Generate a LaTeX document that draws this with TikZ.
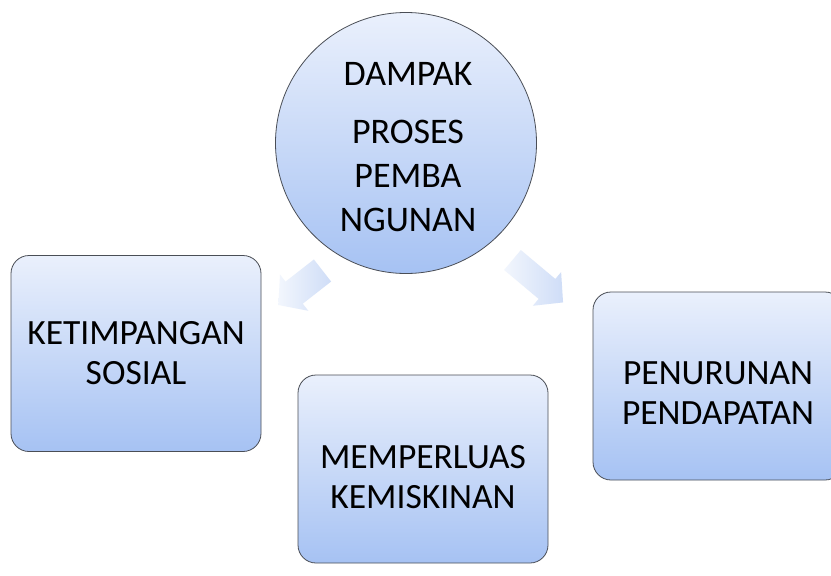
\documentclass[tikz,border=0pt]{standalone}
\usepackage{fontspec}
\setmainfont{Carlito}
\definecolor{topblue}{HTML}{EAF0FC}
\definecolor{botblue}{HTML}{A6C2F3}
\definecolor{edgegray}{HTML}{4A4E56}
\definecolor{arrowlight}{HTML}{F2F6FD}
\definecolor{arrowdark}{HTML}{CFDDF7}
\tikzset{
  x=1pt, y=1pt,
  boxstyle/.style={draw=edgegray, line width=0.8pt, rounded corners=18pt,
    top color=topblue, bottom color=botblue, minimum width=250pt,
    minimum height=196pt, inner sep=0pt},
  boxtext/.style={align=center, inner sep=0pt, font=\fontsize{35.5}{40}\selectfont},
  circstyle/.style={circle, draw=edgegray, line width=0.8pt,
    top color=topblue, bottom color=botblue, minimum size=261pt, inner sep=0pt},
  circtext/.style={align=center, font=\fontsize{36}{44}\selectfont, inner sep=0pt},
  blockarrow/.style={draw=none, left color=arrowlight, right color=arrowdark}
}
\begin{document}
\begin{tikzpicture}
\useasboundingbox (0,0) rectangle (831,-576);
\clip (0,0) rectangle (831,-576);
\fill[white] (0,0) rectangle (831,-576);
% centre circle
\node[circstyle] (hub) at (406,-143) {};
\node[circtext] (hubtext) at (408,-147) {DAMPAK\\[14pt]PROSES\\PEMBA\\NGUNAN};
% boxes
\node[boxstyle] (left) at (136,-353.5) {};
\node[boxtext] (lefttext) at (136,-353.5) {KETIMPANGAN\\SOSIAL};
\node[boxstyle, minimum height=188pt] (mid) at (423,-469) {};
\node[boxtext] (midtext) at (423,-477) {MEMPERLUAS\\KEMISKINAN};
\node[boxstyle, minimum height=188pt] (right) at (718,-386) {};
\node[boxtext] (righttext) at (718,-393) {PENURUNAN\\PENDAPATAN};
% block arrows
\begin{scope}[shift={(322.5,-270.5)}, rotate=218]
  \path[blockarrow] (0,14) -- (36,14) -- (36,23) -- (56,0) -- (36,-23) -- (36,-14) -- (0,-14) -- cycle;
\end{scope}
\begin{scope}[shift={(512.5,-260)}, rotate=-40]
  \path[blockarrow] (0,13) -- (45,13) -- (45,22) -- (66,0) -- (45,-22) -- (45,-13) -- (0,-13) -- cycle;
\end{scope}
\end{tikzpicture}
\end{document}
